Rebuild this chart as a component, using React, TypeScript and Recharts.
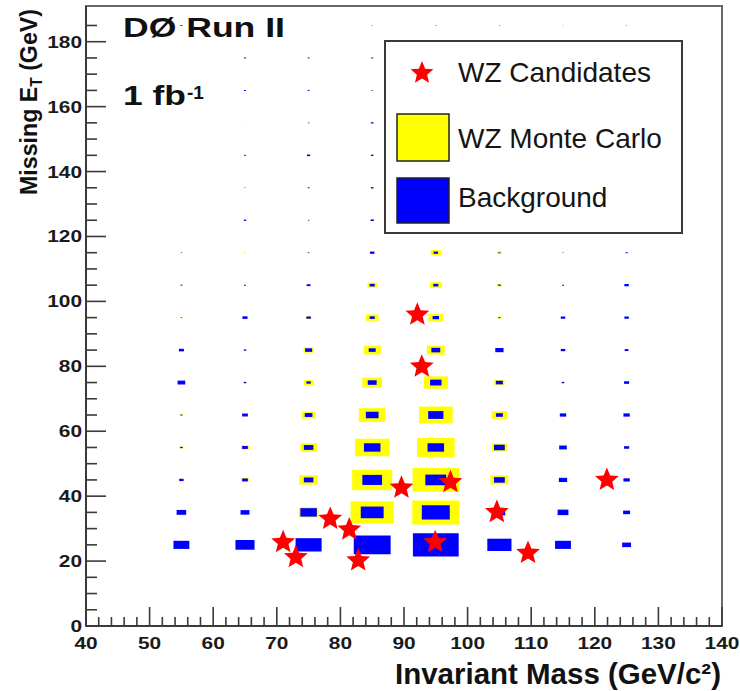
import React from 'react';
import { ScatterChart, Scatter, XAxis, YAxis, ReferenceArea } from 'recharts';

// Bin centres of the 2D histogram (10 GeV wide cells)
const massBins = [55, 65, 75, 85, 95, 105, 115, 125];
const metBins = [25, 35, 45, 55, 65, 75, 85, 95, 105, 115, 125, 135, 145, 155, 165, 175, 185];

// Expected events per cell, one row per missing-ET bin (rows follow metBins)
const backgroundYield: number[][] = [
  [1.0, 1.2, 1.64, 2.32, 2.88, 1.52, 1.0, 0.56],
  [0.6, 0.56, 1.04, 1.44, 1.76, 0.72, 0.68, 0.44],
  [0.28, 0.36, 0.6, 1.24, 1.32, 0.68, 0.52, 0.4],
  [0.16, 0.36, 0.6, 1.04, 1.04, 0.68, 0.48, 0.32],
  [0.12, 0.36, 0.48, 0.8, 0.96, 0.44, 0.4, 0.4],
  [0.48, 0.16, 0.28, 0.56, 0.72, 0.44, 0.16, 0.32],
  [0.32, 0.16, 0.44, 0.44, 0.56, 0.52, 0.28, 0.24],
  [0.08, 0.32, 0.28, 0.32, 0.4, 0.12, 0.28, 0.28],
  [0.12, 0.12, 0.24, 0.32, 0.32, 0.16, 0.12, 0.28],
  [0.08, 0, 0.08, 0.28, 0.28, 0.12, 0.08, 0.12],
  [0, 0.16, 0.08, 0.2, 0.16, 0.12, 0.08, 0.12],
  [0, 0.08, 0.12, 0.16, 0.12, 0.08, 0.08, 0.08],
  [0, 0.12, 0.2, 0.16, 0.12, 0.08, 0.08, 0.08],
  [0, 0, 0.08, 0.16, 0.08, 0.08, 0.08, 0.08],
  [0, 0.12, 0.12, 0.08, 0.08, 0.08, 0.08, 0.08],
  [0, 0.12, 0.12, 0.12, 0.08, 0.08, 0.08, 0.08],
  [0.12, 0, 0, 0.04, 0.08, 0.06, 0, 0.06],
];

const wzMonteCarloYield: number[][] = [
  [0, 0, 0.8, 1.8, 2.4, 0.8, 0.2, 0],
  [0, 0, 1.24, 2.72, 2.96, 0.88, 0.2, 0],
  [0, 0.48, 1.16, 2.52, 2.92, 1.12, 0.2, 0],
  [0.24, 0.52, 1.04, 2.16, 2.36, 0.96, 0.2, 0],
  [0.2, 0.32, 0.84, 1.68, 2.12, 0.96, 0.2, 0.2],
  [0.2, 0.2, 0.6, 1.24, 1.52, 0.64, 0.2, 0.12],
  [0, 0.12, 0.64, 1.08, 1.12, 0.4, 0.16, 0.12],
  [0.16, 0.2, 0.36, 0.8, 0.92, 0.24, 0.12, 0.12],
  [0.08, 0.08, 0.2, 0.6, 0.72, 0.32, 0.12, 0.12],
  [0, 0.12, 0.2, 0.24, 0.64, 0.32, 0.08, 0.16],
  [0, 0.08, 0.16, 0.2, 0.48, 0.24, 0.08, 0.08],
  [0, 0, 0.08, 0.2, 0.32, 0.16, 0.08, 0.08],
  [0, 0, 0.12, 0.12, 0.24, 0.12, 0.04, 0.04],
  [0, 0.08, 0.12, 0.08, 0.16, 0.08, 0.04, 0.04],
  [0, 0.08, 0.12, 0.12, 0.12, 0.08, 0.04, 0.04],
  [0, 0.08, 0.08, 0.12, 0.12, 0.08, 0.04, 0.04],
  [0, 0, 0, 0.12, 0.04, 0.04, 0.12, 0.04],
];

// Selected WZ candidate events
const candidateMass = [71.0, 73.0, 78.4, 81.4, 82.8, 89.6, 97.3, 94.9, 104.6, 109.5, 121.9, 92.1, 92.8];
const candidateMet = [25.8, 21.2, 33.0, 29.7, 20.2, 42.6, 44.3, 25.8, 35.1, 22.5, 45.0, 95.9, 79.9];

// Axis ticks (labelled ones are every 10 GeV in mass, every 20 GeV in missing ET)
const massTicks = [40, 42, 44, 46, 48, 50, 52, 54, 56, 58, 60, 62, 64, 66, 68, 70, 72, 74, 76, 78, 80,
  82, 84, 86, 88, 90, 92, 94, 96, 98, 100, 102, 104, 106, 108, 110, 112, 114, 116, 118, 120,
  122, 124, 126, 128, 130, 132, 134, 136, 138, 140];
const massLabels = [40, 50, 60, 70, 80, 90, 100, 110, 120, 130, 140];
const metTicks = [0, 5, 10, 15, 20, 25, 30, 35, 40, 45, 50, 55, 60, 65, 70, 75, 80, 85, 90, 95, 100,
  105, 110, 115, 120, 125, 130, 135, 140, 145, 150, 155, 160, 165, 170, 175, 180, 185];
const metLabels = [0, 20, 40, 60, 80, 100, 120, 140, 160, 180];

const WIDTH = 740;
const HEIGHT = 691;
const CELL = 10;
const FULL_CELL_EVENTS = 4;
const FONT = "'Liberation Sans', Arial, Helvetica, sans-serif";
const AXIS_COLOR = '#3a3a3a';

const candidates = candidateMass.map((m, i) => ({ x: m, y: candidateMet[i] }));

function starPath(cx: number, cy: number, outer: number, inner: number): string {
  const pts: string[] = [];
  for (let k = 0; k < 10; k++) {
    const r = k % 2 === 0 ? outer : inner;
    const a = -Math.PI / 2 + (k * Math.PI) / 5;
    pts.push(`${(cx + r * Math.cos(a)).toFixed(2)},${(cy + r * Math.sin(a)).toFixed(2)}`);
  }
  return `M${pts.join('L')}Z`;
}

const StarShape = (props: any) => {
  const { cx, cy } = props;
  if (cx == null || cy == null) return null;
  return <path d={starPath(cx, cy, 12.5, 5.6)} fill="#ff0000" />;
};

function cellBoxes(yields: number[][], color: string, tag: string) {
  const boxes: React.ReactElement[] = [];
  metBins.forEach((yc, r) => {
    massBins.forEach((xc, c) => {
      const v = yields[r][c];
      if (!v) return;
      const half = ((v / FULL_CELL_EVENTS) * CELL) / 2;
      boxes.push(
        <ReferenceArea
          key={`${tag}-${r}-${c}`}
          x1={xc - half}
          x2={xc + half}
          y1={yc - half}
          y2={yc + half}
          fill={color}
          fillOpacity={1}
          stroke="none"
          ifOverflow="visible"
        />
      );
    });
  });
  return boxes;
}

const MassTick = (props: any) => {
  const { x, y, payload } = props;
  const v = payload.value;
  const major = massLabels.includes(v);
  return (
    <g>
      <line x1={x} x2={x} y1={y} y2={y - (major ? 19 : 9)} stroke={AXIS_COLOR} strokeWidth={1.6} />
      {major && (
        <text
          x={x}
          y={y + 23}
          textAnchor="middle"
          fontFamily={FONT}
          fontWeight="bold"
          fontSize={17}
          fill="#1a1a1a"
          textLength={String(v).length * 11.6}
          lengthAdjust="spacingAndGlyphs"
        >
          {v}
        </text>
      )}
    </g>
  );
};

const MetTick = (props: any) => {
  const { x, y, payload } = props;
  const v = payload.value;
  const major = metLabels.includes(v);
  return (
    <g>
      <line x1={x} x2={x + (major ? 20 : 11)} y1={y} y2={y} stroke={AXIS_COLOR} strokeWidth={1.6} />
      {major && (
        <text
          x={x - 4}
          y={y + 6}
          textAnchor="end"
          fontFamily={FONT}
          fontWeight="bold"
          fontSize={17}
          fill="#1a1a1a"
          textLength={String(v).length * 11.6}
          lengthAdjust="spacingAndGlyphs"
        >
          {v}
        </text>
      )}
    </g>
  );
};

export default function App() {
  return (
    <div style={{ position: 'absolute', left: 0, top: 0, width: WIDTH, height: HEIGHT, background: '#fff' }}>
      <ScatterChart width={WIDTH} height={HEIGHT} margin={{ top: 6, right: 18, bottom: 0, left: 0 }}>
        <XAxis
          type="number"
          dataKey="x"
          domain={[40, 140]}
          ticks={massTicks}
          interval={0}
          allowDataOverflow
          height={65}
          tickSize={0}
          tickMargin={0}
          tickLine={false}
          tick={<MassTick />}
          axisLine={{ stroke: AXIS_COLOR, strokeWidth: 2 }}
        />
        <YAxis
          type="number"
          dataKey="y"
          domain={[0, 191]}
          ticks={metTicks}
          interval={0}
          allowDataOverflow
          width={86}
          tickSize={0}
          tickMargin={0}
          tickLine={false}
          tick={<MetTick />}
          axisLine={{ stroke: AXIS_COLOR, strokeWidth: 2 }}
        />
        <ReferenceArea x1={40} x2={140} y1={0} y2={191} fill="none" stroke="#6a6a6a" strokeWidth={2} ifOverflow="visible" />
        {cellBoxes(wzMonteCarloYield, '#ffff00', 'mc')}
        {cellBoxes(backgroundYield, '#0000ff', 'bkg')}
        <Scatter data={candidates} shape={<StarShape />} isAnimationActive={false} />
      </ScatterChart>

      <svg
        width={WIDTH}
        height={HEIGHT}
        style={{ position: 'absolute', left: 0, top: 0, pointerEvents: 'none' }}
      >
        <text x={123} y={37} fontFamily={FONT} fontWeight="bold" fontSize={27} fill="#111" textLength={162} lengthAdjust="spacingAndGlyphs">
          DØ Run II
        </text>
        <text x={123} y={105} fontFamily={FONT} fontWeight="bold" fontSize={28} fill="#111" textLength={63} lengthAdjust="spacingAndGlyphs">
          1 fb
        </text>
        <text x={187} y={99} fontFamily={FONT} fontWeight="bold" fontSize={19} fill="#111">
          -1
        </text>

        {/* legend */}
        <rect x={385} y={41} width={297} height={192} fill="#fff" stroke="#3a3a3a" strokeWidth={2} />
        <path d={starPath(422, 73, 12, 5.4)} fill="#ff0000" />
        <text x={458} y={82} fontFamily={FONT} fontSize={28} fill="#151515">WZ Candidates</text>
        <rect x={397} y={114} width={52} height={47} fill="#ffff00" stroke="#222" strokeWidth={1.5} />
        <text x={458} y={148} fontFamily={FONT} fontSize={28} fill="#151515">WZ Monte Carlo</text>
        <rect x={397} y={178} width={52} height={45} fill="#0000ff" stroke="#222" strokeWidth={1.5} />
        <text x={458} y={207} fontFamily={FONT} fontSize={28} fill="#151515">Background</text>

        {/* axis titles */}
        <text x={395} y={684} fontFamily={FONT} fontWeight="bold" fontSize={29} fill="#111" textLength={326} lengthAdjust="spacingAndGlyphs">
          Invariant Mass (GeV/c²)
        </text>
        <text
          transform="translate(37,195) rotate(-90)"
          fontFamily={FONT}
          fontWeight="bold"
          fontSize={24}
          fill="#111"
          textLength={186}
          lengthAdjust="spacingAndGlyphs"
        >
          Missing E<tspan fontSize={16} dy={5}>T</tspan>
          <tspan dy={-5}> (GeV)</tspan>
        </text>
      </svg>
    </div>
  );
}
